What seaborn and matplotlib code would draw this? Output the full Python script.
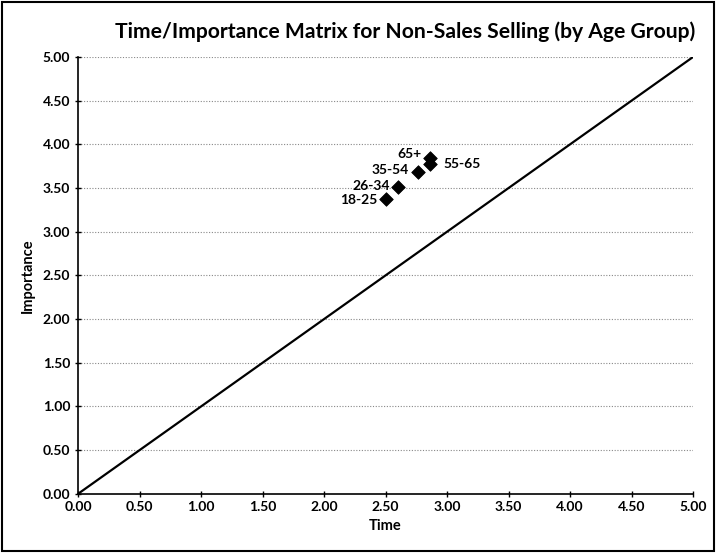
import matplotlib
matplotlib.use("Agg")
import matplotlib.pyplot as plt
import seaborn as sns
import pandas as pd
import numpy as np

groups = ["18-25", "26-34", "35-54", "55-65", "65+"]
time_vals = [2.50, 2.60, 2.76, 2.86, 2.86]
importance_vals = [3.38, 3.51, 3.68, 3.78, 3.84]
ticks = [0.0, 0.5, 1.0, 1.5, 2.0, 2.5, 3.0, 3.5, 4.0, 4.5, 5.0]
diag = [0.0, 5.0]

df = pd.DataFrame({"Time": time_vals, "Importance": importance_vals, "Group": groups})

sns.set_theme(style="white")
plt.rcParams['font.family'] = ['Lato', 'DejaVu Sans']
plt.rcParams['text.color'] = 'black'
plt.rcParams['axes.labelcolor'] = 'black'
plt.rcParams['xtick.color'] = 'black'
plt.rcParams['ytick.color'] = 'black'

fig = plt.figure(figsize=(7.16, 5.53), dpi=100)
ax = fig.add_axes([0.109, 0.107, 0.859, 0.790])

for t in ticks[1:]:
    ax.axhline(t, color="#888888", lw=0.8, ls=(0, (1, 1.5)), zorder=0)

sns.lineplot(x=diag, y=diag, ax=ax, color="black", lw=1.6, zorder=2)
sns.scatterplot(data=df, x="Time", y="Importance", marker="D", color="black",
                s=48, edgecolor="black", ax=ax, zorder=3)

offsets = {"18-25": (-6, -1, "right"), "26-34": (-6, 1, "right"),
           "35-54": (-6, 2, "right"), "55-65": (10, 0, "left"),
           "65+": (-6, 3, "right")}
for g, x, y in zip(groups, time_vals, importance_vals):
    dx, dy, ha = offsets[g]
    ax.annotate(g, (x, y), xytext=(dx, dy), textcoords="offset points",
                ha=ha, va="center", fontsize=10, fontweight="bold", color="black")

ax.set_xlim(0, 5)
ax.set_ylim(0, 5)
ax.set_xticks(ticks)
ax.set_yticks(ticks)
ax.set_xticklabels([f"{t:.2f}" for t in ticks], fontsize=10, fontweight="bold")
ax.set_yticklabels([f"{t:.2f}" for t in ticks], fontsize=10, fontweight="bold")
ax.tick_params(axis="both", direction="inout", length=5, width=1, color="black",
               left=True, bottom=True, pad=3)
for side in ["top", "right"]:
    ax.spines[side].set_visible(False)
for side in ["left", "bottom"]:
    ax.spines[side].set_color("black")
    ax.spines[side].set_linewidth(1.2)

ax.set_xlabel("Time", fontsize=10.5, fontweight="bold", labelpad=4)
ax.set_ylabel("Importance", fontsize=10.5, fontweight="bold", labelpad=6)
fig.text(0.566, 0.943, "Time/Importance Matrix for Non-Sales Selling (by Age Group)",
         ha="center", va="center", fontsize=15.2, fontweight="bold")

fig.patches.append(plt.Rectangle((0.003, 0.003), 0.994, 0.994, transform=fig.transFigure,
                                 fill=False, edgecolor="black", lw=1.5))
fig.savefig("out.png", dpi=100)
